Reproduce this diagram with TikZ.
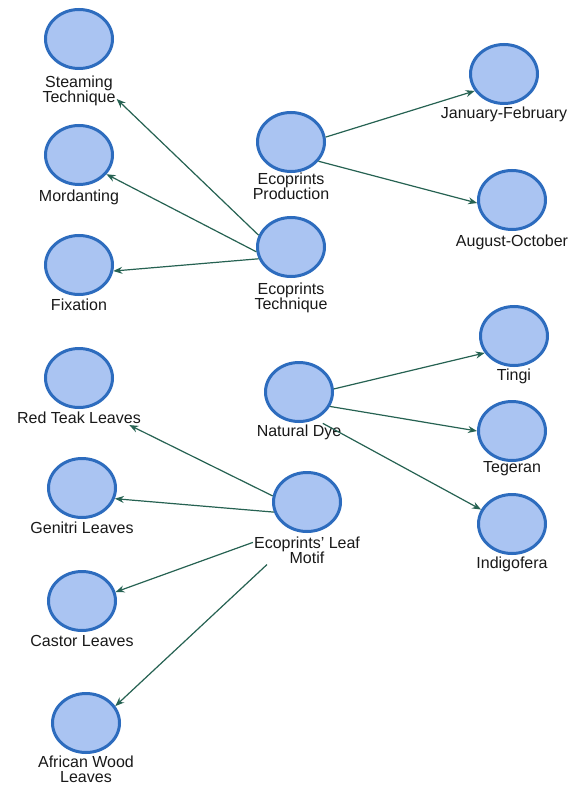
\documentclass[tikz,border=0pt]{standalone}
\usepackage{fontspec}
\setmainfont{Liberation Sans}
\usetikzlibrary{arrows.meta,shapes.geometric}
\definecolor{cfill}{RGB}{170,196,242}
\definecolor{cline}{RGB}{45,108,190}
\definecolor{carrow}{RGB}{38,98,82}
\definecolor{ctext}{RGB}{25,25,25}
\tikzset{
  concept/.style={ellipse,draw=cline,fill=cfill,line width=3pt,minimum width=67pt,minimum height=59pt,inner sep=0pt},
  lab/.style={font=\fontsize{16}{15}\selectfont,text=ctext,align=center,inner sep=1pt},
  link/.style={draw=carrow,line width=1.2pt,-{Stealth[length=9pt,width=7pt,inset=3pt]}}
}
\begin{document}
\begin{tikzpicture}[x=1pt,y=-1pt]
\useasboundingbox[fill=white] (0,0) rectangle (572,786);
% concepts
\node[concept] (st) at (79,39) {};
\node[lab] (stL) at (79,91) {Steaming\\Technique};
\node[concept] (mo) at (79,155) {};
\node[lab] (moL) at (79,197) {Mordanting};
\node[concept] (fx) at (79,265) {};
\node[lab] (fxL) at (79,305) {Fixation};
\node[concept] (pr) at (291,142) {};
\node[lab] (prL) at (291,186) {Ecoprints\\Production};
\node[concept] (te) at (291,247) {};
\node[lab] (teL) at (291,298) {Ecoprints\\Technique};
\node[concept] (jf) at (504,74) {};
\node[lab] (jfL) at (504,114) {January-February};
\node[concept] (ao) at (512,200) {};
\node[lab] (aoL) at (512,242) {August-October};
\node[concept] (rt) at (79,378) {};
\node[lab] (rtL) at (79,418) {Red Teak Leaves};
\node[concept] (nd) at (299,392) {};
\node[lab] (ndL) at (299,432) {Natural Dye};
\node[concept] (ti) at (514,336) {};
\node[lab] (tiL) at (514,376) {Tingi};
\node[concept] (tg) at (512,431) {};
\node[lab] (tgL) at (512,469) {Tegeran};
\node[concept] (ig) at (512,524) {};
\node[lab] (igL) at (512,564) {Indigofera};
\node[concept] (ge) at (82,488) {};
\node[lab] (geL) at (82,528) {Genitri Leaves};
\node[concept] (lm) at (307,502) {};
\node[lab] (lmL) at (307,550) {Ecoprints' Leaf\\Motif};
\node[concept] (ca) at (82,601) {};
\node[lab] (caL) at (82,641) {Castor Leaves};
\node[concept] (aw) at (86,723) {};
\node[lab] (awL) at (86,769) {African Wood\\Leaves};
% connectors
\draw[link] (te.160) -- (stL.-12);
\draw[link] (te.188) -- (mo.-35);
\draw[link] (te.200) -- (fx.-10);
\draw[link] (pr.8) -- (jf.210);
\draw[link] (pr.-35) -- (ao.185);
\draw[link] (nd.5) -- (ti.210);
\draw[link] (nd.-25) -- (tg.180);
\draw[link] (ndL.20) -- (ig.155);
\draw[link] (lm.170) -- (rtL.-8);
\draw[link] (lm.197) -- (ge.-18);
\draw[link] (lmL.172) -- (ca.15);
\draw[link] (lmL.200) -- (aw.30);
\end{tikzpicture}
\end{document}
